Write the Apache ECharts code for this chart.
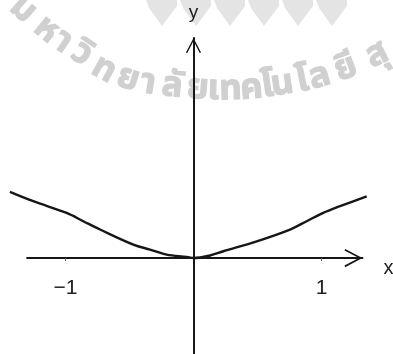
<!DOCTYPE html>
<html>
<head>
<meta charset="utf-8">
<script src="https://cdn.jsdelivr.net/npm/echarts@6/dist/echarts.min.js"></script>
<style>
  html, body { margin: 0; padding: 0; background: #fff; }
  #chart { width: 393px; height: 354px; }
</style>
</head>
<body>
<div id="chart"></div>
<script>
// Curve samples (x, y)
const curveX = [-1.434, -1.252, -0.991, -0.861, -0.730, -0.470, -0.340, -0.209, -0.053, 0, 0.129, 0.233, 0.494, 0.754, 0.884, 1.014, 1.145, 1.353];
const curveY = [0.517, 0.444, 0.353, 0.288, 0.223, 0.105, 0.066, 0.027, 0.009, 0, 0.020, 0.053, 0.131, 0.223, 0.288, 0.353, 0.405, 0.483];

// Labelled ticks on the x axis
const xTickValues = [-1, 1];

// Axis names
const xName = 'x';
const yName = 'y';

// Watermark lettering, one grapheme cluster per entry, with the centre of each glyph body
const wmClusters = ['ม', 'ห', 'า', 'วิ', 'ท', 'ย', 'า', 'ลั', 'ย', 'เ', 'ท', 'ค', 'โ', 'น', 'โ', 'ล', 'ยี', 'สุ', 'ร'];
const wmCentreX = [34, 57, 72, 91, 112, 133, 151, 174, 199, 214, 230, 250, 265, 280, 299, 315, 340, 370, 398];
const wmCentreY = [-3, 17, 28, 40, 55, 63, 67, 70, 72, 73, 73, 72, 70, 68, 65, 61, 53, 40, 25];

const chart = echarts.init(document.getElementById('chart'), null, { renderer: 'canvas' });

const ink = '#161616';
const wmColor = '#d0d0d0';
const fontFamily = '"Liberation Sans", Arial, sans-serif';

// Shared pixel scale: both grids use the same units per pixel and origin
const chartW = 393, chartH = 354;
const gridTop = 38;
const originX = 193.5;
const pxPerUnit = 128;
// Visible axes
const axisXMin = -1.3, axisXMax = 1.32;
// Wider frame for the curve, which runs past the drawn axis ends
const curveXMin = -1.46, curveXMax = 1.4;
const yMin = -0.75, yMax = 1.72;
const xAxisLift = (chartH - gridTop) * (0 - yMin) / (yMax - yMin);

function gridFor(lo, hi) {
  return {
    left: originX + lo * pxPerUnit,
    right: chartW - (originX + hi * pxPerUnit),
    top: gridTop,
    bottom: 0,
    containLabel: false,
    outerBoundsMode: 'none'
  };
}

// Lettering that follows the curve of the centre points
const glyphDrop = 19; // box middle sits above the glyph body for this script
const wmGraphics = wmClusters.map((ch, i) => {
  const a = Math.max(0, i - 1), b = Math.min(wmClusters.length - 1, i + 1);
  const slope = Math.atan2(wmCentreY[b] - wmCentreY[a], wmCentreX[b] - wmCentreX[a]);
  return {
    type: 'text',
    x: wmCentreX[i],
    y: wmCentreY[i],
    rotation: -slope,
    z: -10,
    silent: true,
    style: {
      text: ch,
      x: 0, y: glyphDrop,
      fill: wmColor,
      stroke: wmColor,
      lineWidth: 1.2,
      font: 'bold 35px "Noto Sans Thai", "Noto Sans", "DejaVu Sans", sans-serif',
      textAlign: 'center',
      textVerticalAlign: 'middle'
    }
  };
});

// Emblem teeth along the top edge
const toothLeft = [146, 180, 214, 248, 282, 316];
const toothGraphics = toothLeft.map(x0 => ({
  type: 'polygon',
  z: -10,
  silent: true,
  shape: { points: [[x0, 0], [x0 + 31, 0], [x0 + 31, 6], [x0 + 16, 26], [x0 + 3, 8]] },
  style: { fill: '#e4e4e4' }
}));

const chevron = 'path://M0,19 L10,0 L20,19 L18.2,19.8 L10,4 L1.8,19.8 Z';

const option = {
  animation: false,
  backgroundColor: '#ffffff',
  grid: [gridFor(axisXMin, axisXMax), gridFor(curveXMin, curveXMax)],
  xAxis: [{
    gridIndex: 0,
    type: 'value',
    min: axisXMin,
    max: axisXMax,
    position: 'bottom',
    offset: -xAxisLift,
    name: xName,
    nameLocation: 'end',
    nameGap: 21,
    nameTextStyle: { color: '#222', fontSize: 20, fontFamily, verticalAlign: 'top' },
    axisLine: {
      show: true,
      onZero: false,
      lineStyle: { color: ink, width: 2 },
      symbol: ['none', chevron],
      symbolSize: [20, 18],
      symbolOffset: [0, -9]
    },
    axisTick: { show: true, customValues: xTickValues, length: 3, lineStyle: { color: '#666', width: 1 } },
    axisLabel: {
      show: true,
      customValues: xTickValues,
      margin: 20,
      fontSize: 21,
      color: '#222',
      fontFamily,
      formatter: v => (v < 0 ? '\u2212' + Math.abs(v) : String(v))
    },
    splitLine: { show: false }
  }, {
    gridIndex: 1,
    type: 'value',
    min: curveXMin,
    max: curveXMax,
    show: false
  }],
  yAxis: [{
    gridIndex: 0,
    type: 'value',
    min: yMin,
    max: yMax,
    name: yName,
    nameLocation: 'end',
    nameGap: 16,
    nameTextStyle: { color: '#222', fontSize: 19, fontFamily },
    axisLine: {
      show: true,
      onZero: true,
      lineStyle: { color: ink, width: 2 },
      symbol: ['none', chevron],
      symbolSize: [18, 15],
      symbolOffset: [0, -7.5]
    },
    axisTick: { show: false },
    axisLabel: { show: false },
    splitLine: { show: false }
  }, {
    gridIndex: 1,
    type: 'value',
    min: yMin,
    max: yMax,
    show: false
  }],
  graphic: wmGraphics.concat(toothGraphics),
  series: [{
    type: 'line',
    xAxisIndex: 1,
    yAxisIndex: 1,
    data: curveX.map((x, i) => [x, curveY[i]]),
    showSymbol: false,
    smooth: 0.35,
    lineStyle: { color: ink, width: 2.4 },
    z: 5
  }]
};

chart.setOption(option);
</script>
</body>
</html>
